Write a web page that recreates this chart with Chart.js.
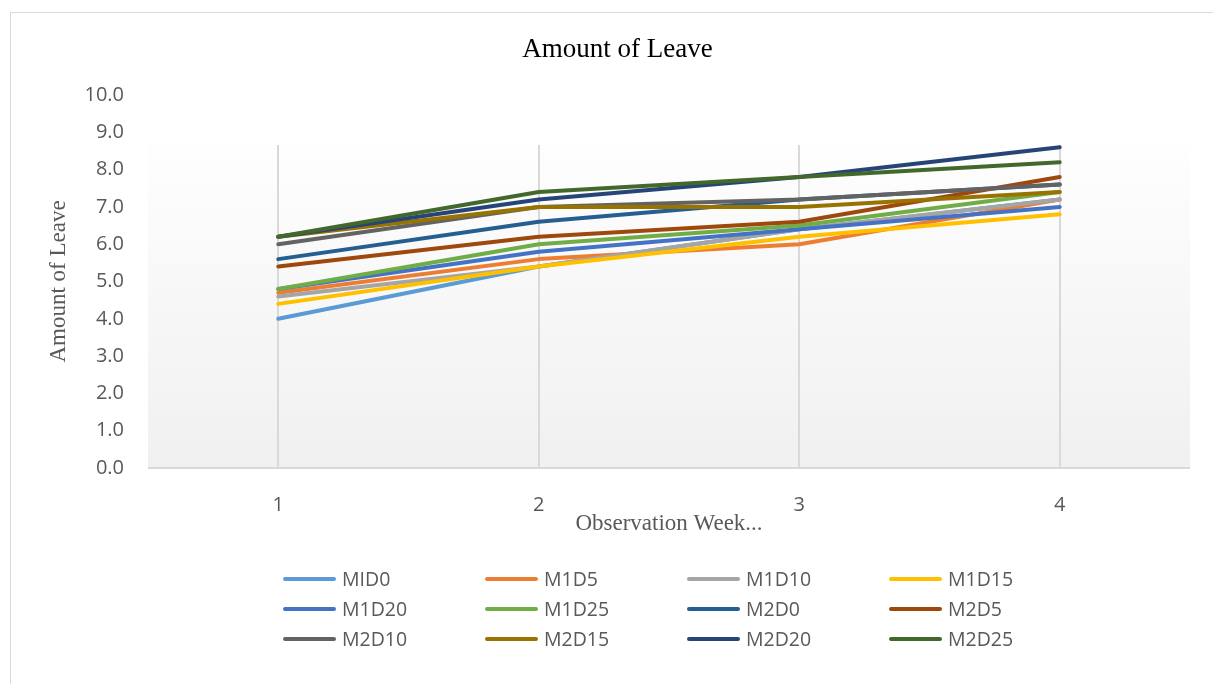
<!DOCTYPE html>
<html>
<head>
<meta charset="utf-8">
<script src="https://cdn.jsdelivr.net/npm/chart.js@4.4.1/dist/chart.umd.min.js"></script>
<style>
  html, body { margin: 0; padding: 0; background: #fff; overflow: hidden; }
  #frame { position: absolute; left: 10px; top: 12px; width: 1230px; height: 700px; border: 1px solid #d9d9d9; }
  #wrap { position: absolute; left: 0; top: 0; width: 1213px; height: 684px; }
  #legend { position: absolute; left: 0; top: 0; width: 1213px; height: 684px; pointer-events: none; }
  .item { position: absolute; display: flex; align-items: center; font-family: "Open Sans", sans-serif; font-size: 19.5px; color: #595959; white-space: nowrap; }
  .swatch { width: 53px; height: 4px; border-radius: 2px; margin-right: 6px; }
</style>
</head>
<body>
<div id="frame"></div>
<div id="wrap"><canvas id="c"></canvas></div>
<div id="legend"></div>
<script>
const weeks = ['1', '2', '3', '4'];
const seriesNames = ['MID0', 'M1D5', 'M1D10', 'M1D15', 'M1D20', 'M1D25', 'M2D0', 'M2D5', 'M2D10', 'M2D15', 'M2D20', 'M2D25'];
const seriesColors = ['#5B9BD5', '#ED7D31', '#A5A5A5', '#FFC000', '#4472C4', '#70AD47', '#255E91', '#9E480E', '#636363', '#997300', '#264478', '#43682B'];

const mid0  = [4.0, 5.4, 6.4, 7.2];
const m1d5  = [4.7, 5.6, 6.0, 7.2];
const m1d10 = [4.6, 5.4, 6.4, 7.2];
const m1d15 = [4.4, 5.4, 6.2, 6.8];
const m1d20 = [4.8, 5.8, 6.4, 7.0];
const m1d25 = [4.8, 6.0, 6.5, 7.4];
const m2d0  = [5.6, 6.6, 7.2, 7.6];
const m2d5  = [5.4, 6.2, 6.6, 7.8];
const m2d10 = [6.0, 7.0, 7.2, 7.6];
const m2d15 = [6.2, 7.0, 7.0, 7.4];
const m2d20 = [6.2, 7.2, 7.8, 8.6];
const m2d25 = [6.2, 7.4, 7.8, 8.2];
const seriesValues = [mid0, m1d5, m1d10, m1d15, m1d20, m1d25, m2d0, m2d5, m2d10, m2d15, m2d20, m2d25];

const yTicks = [0, 1, 2, 3, 4, 5, 6, 7, 8, 9, 10];

// plot panel (gradient + vertical grid) like the Excel plot area
const panelPlugin = {
    id: 'panel',
    beforeDatasetsDraw(chart) {
        const { ctx, chartArea, scales } = chart;
        const top = chartArea.top + 50;
        const g = ctx.createLinearGradient(0, top, 0, chartArea.bottom);
        g.addColorStop(0, '#fefefe');
        g.addColorStop(1, '#f0f0f0');
        ctx.save();
        ctx.fillStyle = g;
        ctx.fillRect(chartArea.left, top, chartArea.right - chartArea.left, chartArea.bottom - top);
        ctx.strokeStyle = '#d9d9d9';
        ctx.lineWidth = 2;
        weeks.forEach((w, i) => {
            const x = Math.round(scales.x.getPixelForValue(i));
            ctx.beginPath(); ctx.moveTo(x, top); ctx.lineTo(x, chartArea.bottom); ctx.stroke();
        });
        ctx.beginPath(); ctx.moveTo(chartArea.left, chartArea.bottom); ctx.lineTo(chartArea.right, chartArea.bottom); ctx.stroke();
        ctx.restore();
    }
};

const datasets = seriesNames.map((name, i) => ({
    label: name,
    data: seriesValues[i],
    borderColor: seriesColors[i],
    backgroundColor: seriesColors[i],
    borderWidth: 4,
    borderCapStyle: 'round',
    borderJoinStyle: 'round',
    pointRadius: 0,
    tension: 0,
    order: -i
}));

new Chart(document.getElementById('c'), {
    type: 'line',
    data: { labels: weeks, datasets: datasets },
    options: {
        responsive: true, maintainAspectRatio: false, animation: false,
        layout: { padding: { left: 45, right: 23, top: 0, bottom: 149 } },
        plugins: {
            legend: { display: false },
            tooltip: { enabled: false },
            title: {
                display: true, text: 'Amount of Leave', color: '#000',
                font: { family: '"Liberation Serif", serif', size: 27, weight: 'normal', lineHeight: 1 },
                padding: { top: 36, bottom: 32 }
            }
        },
        scales: {
            x: {
                offset: true,
                grid: { display: false, drawTicks: false },
                border: { display: false },
                ticks: { color: '#595959', padding: 25, font: { family: '"Open Sans", sans-serif', size: 20 } },
                title: { display: true, text: 'Observation Week...', color: '#595959', padding: 0,
                         font: { family: '"Liberation Serif", serif', size: 23, lineHeight: 1 } },
                afterFit(s) { s.height = 67; }
            },
            y: {
                min: 0, max: 10,
                afterBuildTicks(s) { s.ticks = yTicks.map(v => ({ value: v })); },
                grid: { display: false, drawTicks: false },
                border: { display: false },
                ticks: { color: '#595959', padding: 24, font: { family: '"Open Sans", sans-serif', size: 20 },
                         callback: v => Number(v).toFixed(1) },
                title: { display: true, text: 'Amount of Leave', color: '#595959', padding: { top: 2, bottom: 0 },
                         font: { family: '"Liberation Serif", serif', size: 23, lineHeight: 1 } },
                afterFit(s) { s.width = 103; }
            }
        }
    },
    plugins: [panelPlugin]
});

// legend laid out in a 4-column grid, like the Excel legend
const legend = document.getElementById('legend');
seriesNames.forEach((name, i) => {
    const col = i % 4, row = Math.floor(i / 4);
    const el = document.createElement('div');
    el.className = 'item';
    el.style.left = (283 + col * 202) + 'px';
    el.style.top = (565 + row * 30) + 'px';
    el.innerHTML = '<span class="swatch" style="background:' + seriesColors[i] + '"></span>' + name;
    legend.appendChild(el);
});
</script>
</body>
</html>
